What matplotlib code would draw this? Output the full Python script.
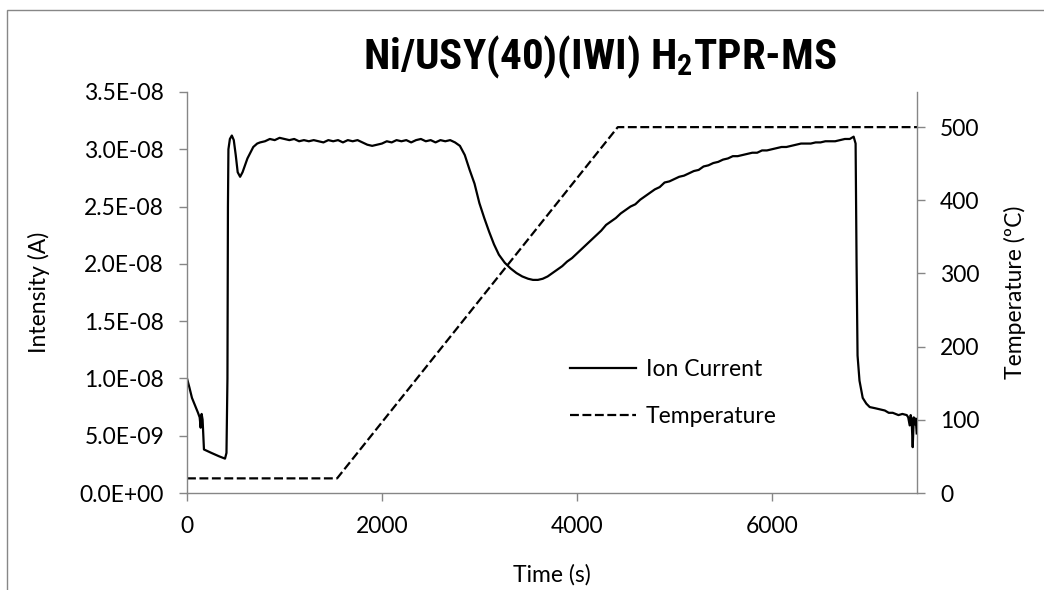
import matplotlib
matplotlib.use("Agg")
import matplotlib.pyplot as plt
from matplotlib import font_manager as fm
from matplotlib.ticker import FuncFormatter, MultipleLocator
from matplotlib.patches import Rectangle

# ---------------- data ----------------
ion_time = [
    0, 25, 51, 85, 113, 130, 140, 150, 160, 174,
    250, 330, 390, 405, 415, 420, 425,
    440, 460, 480, 500, 520, 545, 570, 620, 680, 720,
    750, 800, 850, 900, 950, 1000, 1050, 1100, 1150, 1200,
    1250, 1300, 1350, 1400, 1450, 1500, 1550, 1600, 1650, 1700,
    1750, 1800, 1850, 1900, 1950, 2000, 2050, 2100, 2150, 2200,
    2250, 2300, 2350, 2400, 2450, 2500, 2550, 2600, 2650, 2700,
    2750,
    2800, 2850, 2900, 2950, 3000, 3050, 3100, 3150, 3200, 3260,
    3320, 3380, 3440, 3500, 3550,
    3600, 3650, 3700, 3750, 3800, 3850, 3900, 3950, 4000, 4050,
    4100, 4150, 4200, 4250, 4300, 4350, 4400, 4450, 4500, 4550,
    4600, 4650, 4700, 4750, 4800, 4850, 4900, 4950, 5000, 5050,
    5100, 5150, 5200, 5250, 5300, 5350, 5400, 5450, 5500, 5550,
    5600, 5650, 5700, 5750, 5800, 5850, 5900, 5950, 6000, 6050,
    6100, 6150, 6200, 6250, 6300, 6350, 6400, 6450, 6500, 6550,
    6600, 6650, 6700, 6750, 6800,
    6840, 6860, 6870, 6880, 6900, 6933, 6970, 7005, 7060, 7108,
    7160, 7200, 7241, 7300, 7340, 7385, 7400, 7415, 7425, 7435,
    7446, 7457, 7467, 7477, 7487,
]
ion_current_e8 = [
    1.00, 0.92, 0.83, 0.76, 0.70, 0.66, 0.57, 0.69, 0.64, 0.38,
    0.35, 0.32, 0.30, 0.35, 1.00, 2.50, 3.00,
    3.09, 3.12, 3.08, 2.95, 2.80, 2.76, 2.80, 2.92, 3.02, 3.05,
    3.06, 3.07, 3.09, 3.08, 3.10, 3.09, 3.08, 3.09, 3.07, 3.08,
    3.07, 3.08, 3.07, 3.06, 3.08, 3.07, 3.08, 3.06, 3.08, 3.07,
    3.08, 3.06, 3.04, 3.03, 3.04, 3.05, 3.07, 3.06, 3.08, 3.07,
    3.08, 3.06, 3.08, 3.09, 3.07, 3.08, 3.06, 3.08, 3.07, 3.08,
    3.06,
    3.03, 2.95, 2.82, 2.70, 2.53, 2.40, 2.28, 2.17, 2.08, 2.01,
    1.96, 1.92, 1.89, 1.87, 1.86,
    1.86, 1.87, 1.89, 1.92, 1.95, 1.98, 2.02, 2.05, 2.09, 2.13,
    2.17, 2.21, 2.25, 2.29, 2.34, 2.37, 2.40, 2.44, 2.47, 2.50,
    2.52, 2.56, 2.59, 2.62, 2.65, 2.67, 2.71, 2.72, 2.74, 2.76,
    2.77, 2.79, 2.81, 2.82, 2.85, 2.86, 2.88, 2.89, 2.91, 2.92,
    2.94, 2.94, 2.95, 2.96, 2.97, 2.97, 2.99, 2.99, 3.00, 3.01,
    3.02, 3.02, 3.03, 3.04, 3.05, 3.05, 3.05, 3.06, 3.06, 3.07,
    3.07, 3.07, 3.08, 3.09, 3.09,
    3.11, 3.05, 2.00, 1.20, 0.98, 0.83, 0.78, 0.75, 0.74, 0.73,
    0.72, 0.70, 0.70, 0.68, 0.69, 0.68, 0.66, 0.59, 0.68, 0.64,
    0.40, 0.66, 0.60, 0.65, 0.52,
]

temp_time = [0, 1540, 4420, 7490]
temperature = [20, 20, 500, 500]

title_text = "Ni/USY(40)(IWI) H$_\\mathbf{2}$TPR-MS"
legend_labels = ["Ion Current", "Temperature"]
x_ticks = [0, 2000, 4000, 6000]
temp_ticks = [0, 100, 200, 300, 400, 500]

# ---------------- fonts ----------------
avail = {f.name for f in fm.fontManager.ttflist}


def pick(*cands):
    for c in cands:
        if c in avail:
            return c
    return "DejaVu Sans"


body_font = pick("Lato", "Open Sans", "Noto Sans", "DejaVu Sans")
title_font = pick("Liberation Sans Narrow", "Roboto Condensed", "Open Sans Condensed", "Lato")

plt.rcParams["font.family"] = [body_font, "DejaVu Sans"]
plt.rcParams["mathtext.fontset"] = "custom"
plt.rcParams["mathtext.bf"] = f"{title_font}:bold"
plt.rcParams["mathtext.rm"] = f"{title_font}:bold"

W, H = 1044, 590
fig = plt.figure(figsize=(W / 100, H / 100), dpi=100)
fig.patch.set_facecolor("white")

# outer chart-area border (cropped at right / bottom in the reference)
fig.patches.append(Rectangle((7 / W, -0.1), 1.2, 1 - 10 / H + 0.1, transform=fig.transFigure,
                             fill=False, edgecolor="#878787", linewidth=1.0))

L, R, B, T = 187, 917, 493, 92
ax = fig.add_axes([L / W, 1 - B / H, (R - L) / W, (B - T) / H])
ax2 = ax.twinx()

ax.set_zorder(ax2.get_zorder() + 1)
ax.patch.set_visible(False)

ln1, = ax.plot(ion_time, [v * 1e-8 for v in ion_current_e8], color="black", lw=1.6,
               solid_joinstyle="round")
ln2, = ax2.plot(temp_time, temperature, color="black", lw=1.6, linestyle=(0, (4, 1.6)))

ax.set_xlim(0, 7490)
ax.set_ylim(0, 3.5e-8)
ax2.set_ylim(0, 548)

ax.set_xticks(x_ticks)
ax.yaxis.set_major_locator(MultipleLocator(0.5e-8))
ax.yaxis.set_major_formatter(FuncFormatter(lambda v, p: f"{v:.1E}"))
ax2.set_yticks(temp_ticks)

gray = "#868686"
fs = 16.5
for a in (ax, ax2):
    for s in a.spines.values():
        s.set_color(gray)
        s.set_linewidth(1.0)
    a.spines["top"].set_visible(False)
ax.spines["right"].set_visible(False)
ax2.spines["left"].set_visible(False)
ax2.spines["bottom"].set_visible(False)

ax.tick_params(axis="both", direction="out", length=5.5, width=1.0, color=gray,
               labelsize=fs, labelcolor="black", pad=11)
ax2.tick_params(axis="y", direction="out", length=5.5, width=1.0, color=gray,
                labelsize=fs, labelcolor="black", pad=11)

ax.set_ylabel("Intensity (A)", fontsize=fs)
ax.yaxis.set_label_coords((50 - L) / (R - L), 0.5)
ax2.set_ylabel("Temperature (ºC)", fontsize=fs)
ax2.yaxis.set_label_coords((1004 - L) / (R - L), 0.5)
ax.set_xlabel("Time (s)", fontsize=fs)
ax.xaxis.label.set_verticalalignment("baseline")
ax.xaxis.set_label_coords(0.5, (B - 582) / (B - T))

fig.text(600 / W, 1 - 68 / H, title_text, fontsize=31, fontweight="bold",
         family=[title_font, "DejaVu Sans"], ha="center", va="baseline")

fig.legend([ln1, ln2], legend_labels, loc="center left",
           bbox_to_anchor=(570 / W, 1 - 393 / H), bbox_transform=fig.transFigure,
           frameon=False, fontsize=fs, handlelength=2.9, handletextpad=0.4,
           labelspacing=1.1, borderpad=0, borderaxespad=0)

fig.savefig("out.png", dpi=100, facecolor="white")
